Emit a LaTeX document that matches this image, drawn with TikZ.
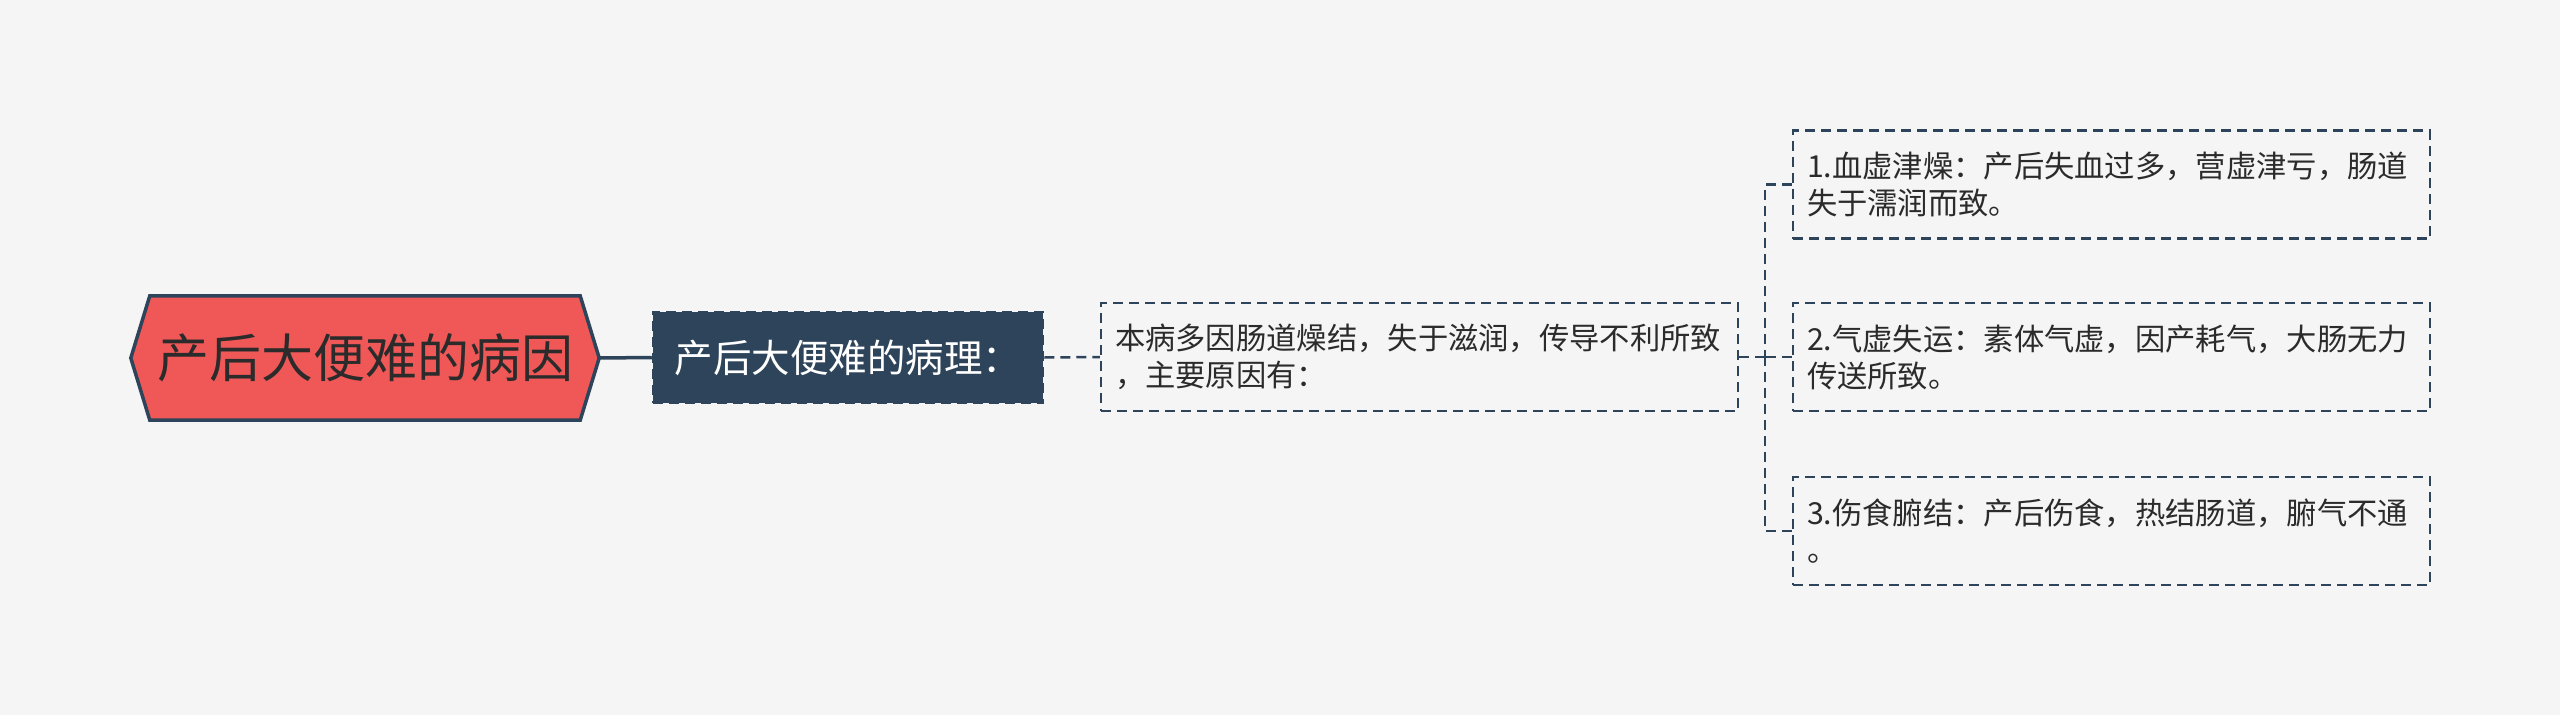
\documentclass[tikz,border=0pt]{standalone}
\usepackage{fontspec}
\setmainfont{Noto Sans CJK SC}
\definecolor{bgcol}{HTML}{F5F5F5}
\definecolor{rootred}{HTML}{F05858}
\definecolor{dark}{HTML}{2E445B}
\definecolor{txt}{HTML}{2B2B2B}
\tikzset{
  rootframe/.style={minimum width=468pt, minimum height=124pt, inner sep=0pt},
  roothex/.style={fill=rootred, draw=dark, line width=3.5pt, line join=miter},
  roottext/.style={text=txt, font=\fontsize{52}{60}\selectfont, inner sep=0pt},
  childbox/.style={fill=dark, draw=dark, line width=2.5pt, dash pattern=on 10pt off 6pt,
    minimum width=390pt, minimum height=91pt, inner sep=0pt, text=white,
    font=\fontsize{38.5}{44}\selectfont},
  leafbox/.style={draw=dark, line width=2.5pt, dash pattern=on 10pt off 6pt,
    minimum width=637pt, minimum height=108pt, text width=609pt, inner xsep=14pt, inner ysep=0pt,
    align=left, text=txt, font=\fontsize{30.3}{37}\selectfont},
  solidconn/.style={draw=dark, line width=3.5pt},
  conn/.style={draw=dark, line width=2.5pt, dash pattern=on 10pt off 6pt},
}
\begin{document}
\begin{tikzpicture}[x=1pt,y=-1pt]
\fill[bgcol] (0,0) rectangle (2560,715);
\useasboundingbox (0,0) rectangle (2560,715);
% root
\node[rootframe] (rootf) at (365,358) {};
\path[roothex] (rootf.west) -- ([xshift=19pt]rootf.north west) -- ([xshift=-19pt]rootf.north east)
  -- (rootf.east) -- ([xshift=-19pt]rootf.south east) -- ([xshift=19pt]rootf.south west) -- cycle;
\node[roottext] (root) at (rootf.center) {产后大便难的病因};
% child
\node[childbox] (child) at (848,357.5) {产后大便难的病理：};
% box 2
\node[leafbox] (b2) at (1419.5,357) {本病多因肠道燥结，失于滋润，传导不利所致\\，主要原因有：};
% leaves
\node[leafbox] (b3a) at (2111.5,184.5) {1.血虚津燥：产后失血过多，营虚津亏，肠道\\失于濡润而致。};
\node[leafbox] (b3b) at (2111.5,357) {2.气虚失运：素体气虚，因产耗气，大肠无力\\传送所致。};
\node[leafbox] (b3c) at (2111.5,531) {3.伤食腑结：产后伤食，热结肠道，腑气不通\\。};
\coordinate (tj) at (1765,357);
% connectors
\path[solidconn] (rootf.east) -- (child.west);
\path[conn] (child.east) -- (b2.west);
\path[conn] (b2.east) -- (tj);
\path[conn] (b3a.west) -| (tj);
\path[conn] (b3c.west) -| (tj);
\path[conn] (b3b.west) -- (tj);
\end{tikzpicture}
\end{document}
